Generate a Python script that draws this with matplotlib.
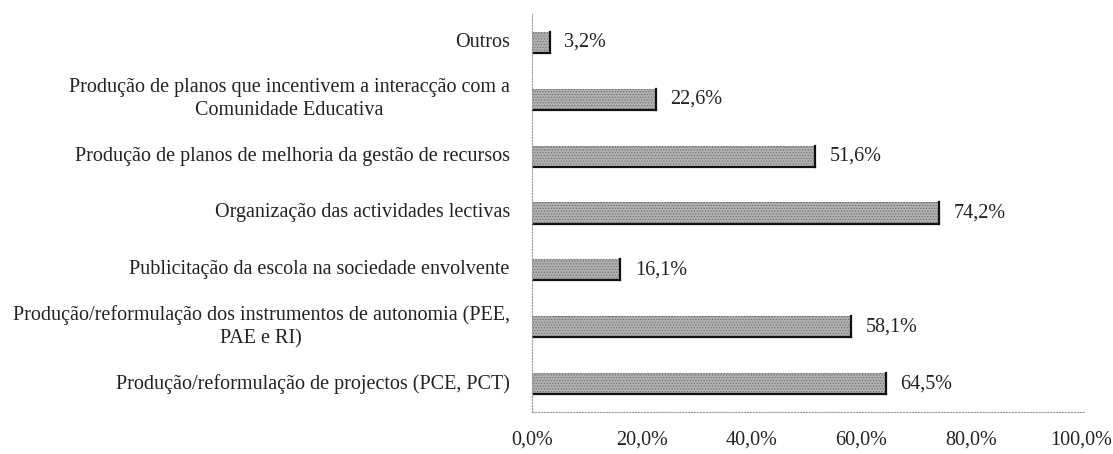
import matplotlib.pyplot as plt

categories = [
    "Produção/reformulação de projectos (PCE, PCT)",
    "Produção/reformulação dos instrumentos de autonomia (PEE,\nPAE e RI)",
    "Publicitação da escola na sociedade envolvente",
    "Organização das actividades lectivas",
    "Produção de planos de melhoria da gestão de recursos",
    "Produção de planos que incentivem a interacção com a\nComunidade Educativa",
    "Outros",
]
values = [64.5, 58.1, 16.1, 74.2, 51.6, 22.6, 3.2]
value_labels = ["64,5%", "58,1%", "16,1%", "74,2%", "51,6%", "22,6%", "3,2%"]
ticks = [0, 20, 40, 60, 80, 100]
tick_labels = ["0,0%", "20,0%", "40,0%", "60,0%", "80,0%", "100,0%"]

plt.rcParams["font.family"] = ["Liberation Serif", "DejaVu Serif"]
plt.rcParams["hatch.linewidth"] = 0.5
fig = plt.figure(figsize=(11.13, 4.54), dpi=100)
ax = fig.add_axes([532 / 1113, 1 - 412 / 454, 552 / 1113, 398 / 454])

ypos = list(range(len(values)))
h = 0.37
ax.barh(ypos, values, height=h, color="#b0b0b0", edgecolor="none")
ax.barh(ypos, values, height=h, color="none", edgecolor="#6e6e6e",
        hatch="......", linewidth=0)
for y, v in zip(ypos, values):
    ax.plot([0, v], [y + h / 2, y + h / 2], color="#777777", lw=0.8, ls=":")
    ax.plot([0, v], [y - h / 2, y - h / 2], color="#111111", lw=1.6)
    ax.plot([v, v], [y - h / 2, y + h / 2], color="#111111", lw=1.6)

for y, v, lab in zip(ypos, values, value_labels):
    ax.annotate(lab, (v, y), xytext=(10.5, 0), textcoords="offset points",
                va="center", ha="left", fontsize=14.5, color="#222222")

for y, cat in zip(ypos, categories):
    ax.annotate(cat, (0, y), xytext=(-16, 0), textcoords="offset points",
                ha="right", va="center", multialignment="center",
                fontsize=14.5, color="#222222", linespacing=1.3)

ax.set_xlim(0, 100.6)
ax.set_ylim(-0.5, 6.5)
ax.set_yticks([])
ax.set_xticks(ticks)
ax.set_xticklabels(tick_labels, fontsize=14.5, color="#222222")
ax.tick_params(axis="x", length=0, pad=13)

for side in ["top", "right"]:
    ax.spines[side].set_visible(False)
for side in ["left", "bottom"]:
    ax.spines[side].set_linestyle(":")
    ax.spines[side].set_color("#999999")
    ax.spines[side].set_linewidth(0.8)

fig.savefig("out.png", dpi=100)
